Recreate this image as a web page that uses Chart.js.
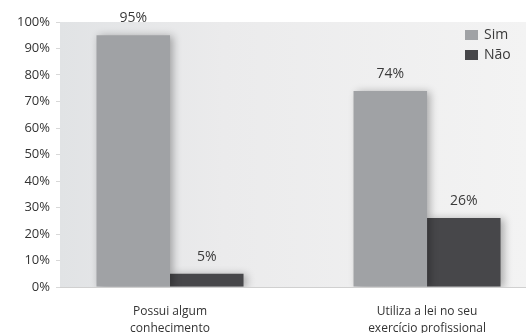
<!DOCTYPE html>
<html lang="pt">
<head>
<meta charset="UTF-8">
<title>Sim / Não</title>
<style>
  html, body { margin: 0; padding: 0; background: #fff; }
  #wrap { width: 526px; height: 333px; }
</style>
</head>
<body>
<div id="wrap"><canvas id="grafico"></canvas></div>
<script src="https://cdn.jsdelivr.net/npm/chart.js@4/dist/chart.umd.min.js"></script>
<script>
// dados
const categorias = [['Possui algum', 'conhecimento'], ['Utiliza a lei no seu', 'exercício profissional']];
const sim = [95, 74];
const nao = [5, 26];
const series = ['Sim', 'Não'];
const cores = ['#a0a2a5', '#47474a'];

const fonte = '"Open Sans", "Noto Sans", sans-serif';

// fundo cinza da área do gráfico
const fundo = {
  id: 'fundo',
  beforeDraw(chart) {
    const { ctx, chartArea: a } = chart;
    const g = ctx.createLinearGradient(a.left, 0, a.right, 0);
    g.addColorStop(0, '#e1e3e5');
    g.addColorStop(0.35, '#ebebec');
    g.addColorStop(1, '#f3f3f3');
    ctx.save();
    ctx.fillStyle = g;
    ctx.fillRect(a.left, a.top, a.right - a.left, a.bottom - a.top);
    ctx.restore();
  }
};

// sombra das barras
const sombra = {
  id: 'sombra',
  beforeDatasetsDraw(chart) {
    const ctx = chart.ctx;
    ctx.save();
    ctx.shadowColor = 'rgba(0,0,0,0.3)';
    ctx.shadowBlur = 8;
    ctx.shadowOffsetX = 3;
    ctx.shadowOffsetY = 1;
  },
  afterDatasetsDraw(chart) {
    chart.ctx.restore();
  }
};

// rótulos de valor + legenda
const rotulos = {
  id: 'rotulos',
  afterDraw(chart) {
    const ctx = chart.ctx;
    ctx.save();
    ctx.font = '14px ' + fonte;
    ctx.fillStyle = '#3a3a3a';
    ctx.textAlign = 'center';
    ctx.textBaseline = 'middle';
    chart.data.datasets.forEach((ds, i) => {
      chart.getDatasetMeta(i).data.forEach((bar, j) => {
        ctx.fillText(ds.data[j].y + '%', bar.x, bar.y - 17);
      });
    });
    // legenda
    ctx.textAlign = 'left';
    chart.data.datasets.forEach((ds, i) => {
      const y = 35 + i * 20;
      ctx.fillStyle = ds.backgroundColor;
      ctx.fillRect(465, y - 5, 13, 10);
      ctx.fillStyle = '#3a3a3a';
      ctx.fillText(ds.label, 484, y);
    });
    ctx.restore();
  }
};

new Chart(document.getElementById('grafico'), {
  type: 'bar',
  data: {
    datasets: [
      { label: series[0], data: sim.map((v, i) => ({ x: i, y: v })), backgroundColor: cores[0] },
      { label: series[1], data: nao.map((v, i) => ({ x: i, y: v })), backgroundColor: cores[1] }
    ]
  },
  options: {
    responsive: true,
    maintainAspectRatio: false,
    animation: false,
    layout: { padding: { top: 22, right: 0, left: 0, bottom: 0 } },
    plugins: {
      legend: { display: false },
      tooltip: { enabled: false }
    },
    datasets: {
      bar: { barPercentage: 1, categoryPercentage: 0.572 }
    },
    scales: {
      x: {
        type: 'linear',
        offset: false,
        min: -0.428,
        max: 1.385,
        afterBuildTicks(scale) {
          scale.ticks = categorias.map((c, i) => ({ value: i }));
        },
        afterFit(scale) { scale.height = 46; },
        grid: { display: false },
        border: { color: '#d0d0d0' },
        ticks: {
          padding: 8,
          color: '#333',
          font: { family: fonte, size: 12, lineHeight: 1.4 },
          maxRotation: 0,
          callback: (v) => categorias[v]
        }
      },
      y: {
        min: 0,
        max: 100,
        afterFit(scale) { scale.width = 60; },
        grid: { drawOnChartArea: false, tickLength: 4, color: '#d8d8d8' },
        border: { display: false },
        ticks: {
          stepSize: 10,
          padding: 6,
          color: '#333',
          font: { family: fonte, size: 13 },
          callback: (v) => v + '%'
        }
      }
    }
  },
  plugins: [fundo, sombra, rotulos]
});
</script>
</body>
</html>
